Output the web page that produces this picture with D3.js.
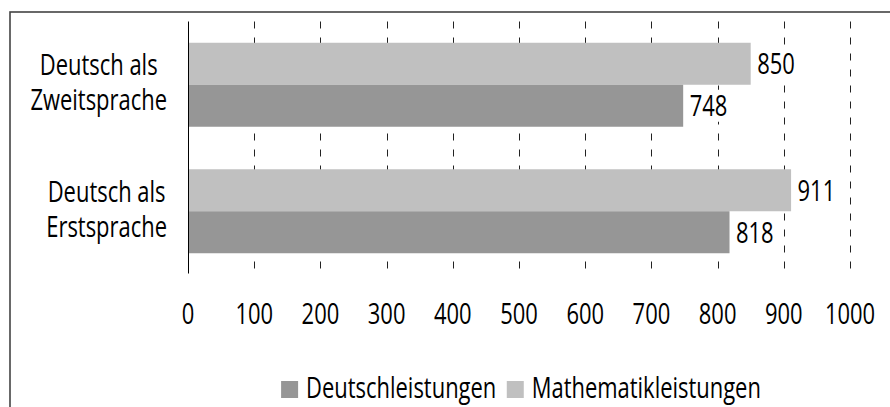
<!DOCTYPE html>
<html>
<head>
<meta charset="utf-8">
<script src="https://cdn.jsdelivr.net/npm/d3@7"></script>
<style>
  body { margin: 0; background: #fff; }
  text { font-family: "Open Sans", sans-serif; fill: #000; font-size: 28.5px; }
</style>
</head>
<body>
<svg id="chart" width="890" height="407"></svg>
<script>
// categories (top to bottom) and series
var categories = [["Deutsch als", "Zweitsprache"], ["Deutsch als", "Erstsprache"]];
var seriesNames = ["Mathematikleistungen", "Deutschleistungen"];
var mathValues = [850, 911];
var deutschValues = [748, 818];
var tickValues = [0, 100, 200, 300, 400, 500, 600, 700, 800, 900, 1000];
var legendOrder = ["Deutschleistungen", "Mathematikleistungen"];

var colors = { "Mathematikleistungen": "#c0c0c0", "Deutschleistungen": "#969696" };

// the source font is a condensed one, so squeeze Open Sans a bit
var squeeze = 0.77;
function place(x, y) {
    return "translate(" + x + "," + y + ") scale(" + squeeze + ",1)";
}

var svg = d3.select("#chart");

// outer frame (cut off right and bottom)
svg.append("rect")
    .attr("x", 10).attr("y", 12)
    .attr("width", 900).attr("height", 420)
    .style("fill", "none")
    .style("stroke", "#444")
    .style("stroke-width", 1.6);

var plotTop = 21.5, plotBottom = 274.5;

var x = d3.scaleLinear().domain([0, 1000]).range([188, 850]);

var y = d3.scaleBand()
    .domain(d3.range(categories.length))
    .range([plotTop, plotBottom])
    .paddingInner(0.336)
    .paddingOuter(0.168);

var ySeries = d3.scaleBand()
    .domain(seriesNames)
    .range([0, y.bandwidth()]);

// dashed gridlines
svg.append("g").selectAll("line")
    .data(tickValues.slice(1))
    .enter().append("line")
    .attr("x1", function(d) { return Math.round(x(d)) + 0.5; })
    .attr("x2", function(d) { return Math.round(x(d)) + 0.5; })
    .attr("y1", plotTop)
    .attr("y2", plotBottom - 1)
    .style("stroke", "#222")
    .style("stroke-width", 1)
    .style("stroke-dasharray", "7,9");

// bar data rows
var rows = [];
categories.forEach(function(c, i) {
    rows.push({ cat: i, series: "Mathematikleistungen", value: mathValues[i] });
    rows.push({ cat: i, series: "Deutschleistungen", value: deutschValues[i] });
});

svg.append("g").selectAll("rect")
    .data(rows)
    .enter().append("rect")
    .attr("x", x(0))
    .attr("y", function(d) { return y(d.cat) + ySeries(d.series); })
    .attr("width", function(d) { return x(d.value) - x(0); })
    .attr("height", ySeries.bandwidth())
    .style("fill", function(d) { return colors[d.series]; });

// value labels, on a white patch that hides the gridlines
var labels = svg.append("g").selectAll("g")
    .data(rows)
    .enter().append("g");

labels.each(function(d) {
    var g = d3.select(this);
    var lx = x(d.value) + 6.5;
    var cy = y(d.cat) + ySeries(d.series) + ySeries.bandwidth() / 2;
    var bg = g.append("rect").style("fill", "#fff");
    var t = g.append("text")
        .attr("transform", place(lx, cy + 10.5))
        .text(d.value);
    var w = t.node().getComputedTextLength() * squeeze;
    bg.attr("x", lx - 1).attr("y", cy - 16)
        .attr("width", w + 2).attr("height", 32);
});

// axis line at zero
svg.append("line")
    .attr("x1", Math.round(x(0)) + 0.5).attr("x2", Math.round(x(0)) + 0.5)
    .attr("y1", plotTop).attr("y2", plotBottom - 1)
    .style("stroke", "#000")
    .style("stroke-width", 1);

// x tick labels
svg.append("g").selectAll("text")
    .data(tickValues)
    .enter().append("text")
    .attr("transform", function(d) { return place(x(d), 323.5); })
    .attr("text-anchor", "middle")
    .text(function(d) { return d; });

// category labels: block right aligned, lines centred inside it
var catG = svg.append("g");
categories.forEach(function(lines, i) {
    var cy = y(i) + y.bandwidth() / 2;
    var g = catG.append("g");
    var texts = g.selectAll("text")
        .data(lines)
        .enter().append("text")
        .attr("text-anchor", "middle")
        .text(function(d) { return d; });
    var maxW = 0;
    texts.each(function() { maxW = Math.max(maxW, this.getComputedTextLength() * squeeze); });
    texts.attr("transform", function(d, j) { return place(167 - maxW / 2, cy - 9.3 + j * 35); });
});

// legend
var legend = svg.append("g");
var lx = 0;
legendOrder.forEach(function(name) {
    var item = legend.append("g").attr("transform", "translate(" + lx + ",0)");
    item.append("rect")
        .attr("x", 0).attr("y", 381)
        .attr("width", 17).attr("height", 17)
        .style("fill", colors[name]);
    var t = item.append("text")
        .attr("transform", place(25, 398))
        .text(name);
    lx += 25 + t.node().getComputedTextLength() * squeeze + 10.5;
});
var legendW = lx - 10.5;
legend.attr("transform", "translate(" + (521 - legendW / 2) + ",0)");
</script>
</body>
</html>
